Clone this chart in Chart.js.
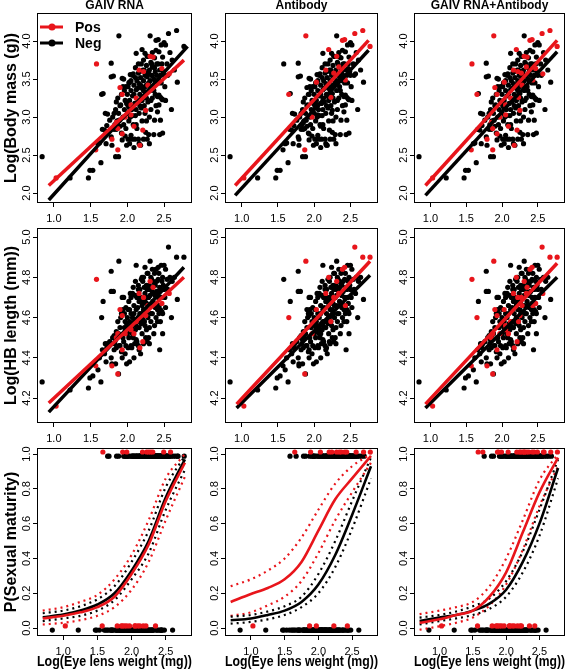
<!DOCTYPE html>
<html><head><meta charset="utf-8">
<script src="https://cdn.jsdelivr.net/npm/chart.js@4.4.1/dist/chart.umd.min.js"></script>
<style>
html,body{margin:0;padding:0;background:#fff;}
#wrap{position:relative;width:568px;height:671px;overflow:hidden;background:#fff;}
#wrap canvas{position:absolute;}
</style></head><body><div id="wrap"></div>
<script>
// ---------------- DATA ----------------
const colTitles = ['GAIV RNA', 'Antibody', 'GAIV RNA+Antibody'];
const rowTitles = ['Log(Body mass (g))', 'Log(HB length (mm))', 'P(Sexual maturity)'];
const xTitle = 'Log(Eye lens weight (mg))';
const legendLabels = ['Pos', 'Neg'];
const xTicks = [1.0, 1.5, 2.0, 2.5];
const massTicks = [2.0, 2.5, 3.0, 3.5, 4.0];
const lengthTicks = [4.2, 4.4, 4.6, 4.8, 5.0];
const probTicks = [0.0, 0.2, 0.4, 0.6, 0.8, 1.0];

// each bird: [log eye lens weight, log body mass, log HB length, mature(0/1)]
const bothPosBirds = [
  [1.03,2.20,4.16,0],[1.87,2.57,4.32,0],[1.97,3.00,4.52,0],[2.16,3.62,4.72,1],[2.31,3.80,4.78,1]
];
const rnaOnlyBirds = [
  [1.58,3.70,4.79,1],[1.57,2.57,4.36,0],[1.79,2.71,4.36,0],[1.85,2.93,4.50,0],[1.87,2.85,4.52,1],
  [1.90,3.39,4.64,0],[1.93,3.30,4.61,1],[1.93,2.78,4.44,0],[2.05,3.03,4.54,0],[2.05,3.16,4.56,0],
  [2.09,2.88,4.52,0],[2.12,3.25,4.58,0],[2.17,2.63,4.45,0],[2.21,2.83,4.48,0],[2.22,3.60,4.70,1],
  [2.25,3.09,4.61,1],[2.28,3.42,4.66,1],[2.35,3.79,4.75,0],[2.47,3.64,4.67,1],[2.57,3.57,4.72,1]
];
const abOnlyBirds = [
  [1.885,4.07,4.88,1],[1.65,3.30,4.60,1],[2.03,3.46,4.64,1],[2.20,3.89,4.80,1],[2.23,3.26,4.58,0],
  [2.27,3.58,4.70,1],[2.34,3.66,4.72,1],[2.39,4.01,4.84,1],[2.42,4.02,4.85,1],[2.43,3.49,4.66,0],
  [2.56,4.10,4.95,1],[2.67,4.14,4.90,1],[2.77,3.93,4.90,1]
];
const negBirds = [
  [0.84,2.48,4.28,0],[1.22,2.20,4.24,0],[1.47,2.20,4.25,0],[1.49,2.30,4.30,0],[1.53,2.30,4.31,0],
  [1.60,2.65,4.34,0],[1.62,2.66,4.40,0],[1.64,2.40,4.28,0],[1.66,2.84,4.44,0],[1.67,3.31,4.68,1],
  [1.69,2.83,4.42,0],[1.70,3.05,4.47,0],[1.71,2.65,4.38,0],[1.72,2.89,4.45,0],[1.73,3.04,4.47,0],
  [1.76,2.96,4.48,0],[1.78,3.71,4.83,1],[1.78,3.53,4.73,0],[1.78,2.74,4.40,0],[1.79,2.63,4.37,0],
  [1.80,3.00,4.50,0],[1.81,3.54,4.73,1],[1.82,3.05,4.51,0],[1.82,2.84,4.44,0],[1.83,2.90,4.47,0],
  [1.84,2.48,4.37,0],[1.84,3.10,4.49,0],[1.85,2.84,4.45,0],[1.85,3.20,4.53,0],[1.86,2.95,4.50,0],
  [1.87,3.25,4.58,0],[1.88,2.48,4.32,0],[1.88,3.05,4.52,0],[1.89,2.96,4.46,0],[1.90,3.15,4.55,1],
  [1.91,3.16,4.60,0],[1.92,2.79,4.43,0],[1.92,3.30,4.62,1],[1.93,3.51,4.70,1],[1.93,2.70,4.40,0],
  [1.94,3.00,4.50,0],[1.94,3.40,4.64,0],[1.95,3.50,4.70,1],[1.95,2.90,4.48,0],[1.96,3.10,4.55,0],
  [1.97,3.22,4.58,1],[1.98,3.40,4.65,0],[1.98,2.85,4.46,0],[1.99,2.63,4.37,0],[2.00,3.05,4.52,0],
  [2.00,3.30,4.60,1],[2.01,2.71,4.45,0],[2.01,3.15,4.56,0],[2.02,3.45,4.68,1],[2.02,2.95,4.50,0],
  [2.03,3.22,4.58,0],[2.03,2.65,4.38,0],[2.04,3.56,4.72,1],[2.04,3.00,4.53,0],[2.05,2.76,4.46,0],
  [2.05,3.35,4.62,0],[2.06,2.71,4.45,0],[2.06,3.10,4.55,0],[2.07,3.55,4.72,1],[2.07,3.28,4.60,1],
  [2.08,3.57,4.75,1],[2.08,2.90,4.50,0],[2.09,3.42,4.66,0],[2.10,3.18,4.57,0],[2.10,2.71,4.47,0],
  [2.11,3.65,4.78,1],[2.11,3.02,4.54,0],[2.12,3.84,4.86,1],[2.12,3.36,4.64,1],[2.13,2.85,4.48,0],
  [2.13,3.48,4.70,1],[2.14,3.20,4.58,0],[2.15,2.71,4.46,0],[2.15,3.70,4.76,1],[2.16,3.05,4.55,0],
  [2.16,3.44,4.68,1],[2.16,2.65,4.44,0],[2.17,3.30,4.62,0],[2.17,3.60,4.74,1],[2.18,2.63,4.42,0],
  [2.18,3.52,4.70,1],[2.19,3.12,4.57,0],[2.20,3.38,4.66,1],[2.20,2.95,4.52,0],[2.21,3.62,4.78,1],
  [2.21,3.25,4.60,0],[2.22,3.75,4.80,1],[2.22,3.48,4.68,1],[2.24,3.84,4.85,1],[2.23,3.15,4.58,0],
  [2.24,3.05,4.56,0],[2.24,3.55,4.72,1],[2.25,3.31,4.64,1],[2.25,2.80,4.50,0],[2.26,3.68,4.76,1],
  [2.26,3.42,4.67,1],[2.27,2.71,4.48,0],[2.27,3.53,4.74,1],[2.28,3.20,4.60,0],[2.28,3.80,4.82,1],
  [2.29,2.77,4.50,0],[2.29,3.45,4.70,1],[2.30,3.62,4.76,1],[2.30,3.00,4.55,0],[2.30,2.65,4.47,0],
  [2.31,4.07,4.88,1],[2.31,3.35,4.66,1],[2.32,3.72,4.80,1],[2.32,3.10,4.58,0],[2.33,3.55,4.74,1],
  [2.34,3.85,4.84,1],[2.34,3.25,4.62,1],[2.35,3.66,4.78,1],[2.35,3.40,4.68,1],[2.36,2.77,4.52,0],
  [2.36,3.50,4.72,1],[2.37,3.78,4.82,1],[2.37,2.96,4.56,0],[2.38,3.60,4.76,1],[2.38,3.30,4.65,1],
  [2.39,3.88,4.84,1],[2.39,3.15,4.60,0],[2.40,3.70,4.78,1],[2.41,3.27,4.64,1],[2.41,3.07,4.58,0],
  [2.42,3.45,4.70,1],[2.43,3.86,4.82,1],[2.43,3.16,4.62,0],[2.43,3.29,4.66,1],[2.44,2.77,4.44,0],
  [2.45,3.26,4.64,1],[2.45,3.55,4.74,1],[2.45,2.96,4.58,0],[2.46,3.95,4.86,1],[2.47,3.24,4.63,1],
  [2.48,3.23,4.62,1],[2.48,2.79,4.52,0],[2.48,3.79,4.80,1],[2.49,3.60,4.76,1],[2.50,3.98,4.86,1],
  [2.51,3.40,4.70,1],[2.52,3.22,4.65,1],[2.52,3.95,4.84,1],[2.60,3.10,4.60,0],[2.54,3.70,4.79,1],
  [2.55,3.55,4.74,1],[2.58,3.85,4.80,1],[2.61,3.75,4.78,1],[2.64,3.62,4.80,1],[2.68,3.46,4.69,1],
  [1.96,3.35,4.62,0],[1.99,3.18,4.57,0],[2.01,3.40,4.64,1],[2.03,3.12,4.55,0],[2.05,3.48,4.70,1],
  [2.07,3.02,4.52,0],[2.09,3.30,4.62,1],[2.11,3.52,4.71,1],[2.12,3.10,4.56,0],[2.14,3.38,4.65,1],
  [2.15,3.58,4.74,1],[2.17,3.15,4.58,0],[2.18,3.42,4.68,1],[2.19,3.70,4.79,1],[2.20,3.22,4.60,0],
  [2.22,3.35,4.64,1],[2.23,3.62,4.75,1],[2.24,3.40,4.68,1],[2.26,3.25,4.62,1],[2.27,3.80,4.82,1],
  [2.29,3.58,4.74,1],[2.31,3.48,4.71,1],[2.32,3.22,4.62,0],[2.33,3.70,4.79,1],[2.34,3.55,4.73,1],
  [2.36,3.35,4.66,1],[2.37,3.65,4.77,1],[2.38,3.48,4.71,1],[2.40,3.55,4.73,1],[2.42,3.70,4.79,1],
  [2.44,3.62,4.75,1],[2.46,3.45,4.70,1],[2.47,3.70,4.78,1],[2.50,3.55,4.74,1],[2.12,2.90,4.49,0],
  [2.26,2.95,4.54,0],[1.90,2.88,4.46,0],[1.97,2.75,4.42,0],[2.09,2.60,4.40,0],[2.22,2.71,4.47,0]
];

// fitted regression lines per column: [x0, y0, x1, y1]
const massFitPos = [[0.93,2.10,2.77,3.75],[0.91,2.10,2.75,4.01],[0.93,2.10,2.77,4.01]];
const massFitNeg = [[0.93,1.91,2.82,3.93],[0.91,1.97,2.75,3.88],[0.93,1.97,2.77,3.86]];
const lenFitPos  = [[0.93,4.175,2.77,4.80],[0.93,4.17,2.77,4.88],[0.93,4.17,2.77,4.87]];
const lenFitNeg  = [[0.93,4.13,2.77,4.85],[0.93,4.15,2.77,4.81],[0.93,4.15,2.77,4.80]];

// fitted maturity curves (and confidence bands) per column
const curveX = [0.70,1.00,1.25,1.50,1.75,2.00,2.25,2.50,2.78];
const negFit = [[0.062,0.077,0.10,0.135,0.20,0.33,0.50,0.75,0.97],
                [0.045,0.055,0.075,0.10,0.15,0.25,0.42,0.65,0.93],
                [0.04,0.06,0.075,0.10,0.14,0.22,0.38,0.60,0.92]];
const negLo  = [[0.04,0.055,0.07,0.10,0.16,0.28,0.43,0.68,0.91],
                [0.025,0.035,0.05,0.075,0.12,0.20,0.35,0.57,0.86],
                [0.02,0.04,0.055,0.075,0.11,0.18,0.32,0.53,0.86]];
const negHi  = [[0.085,0.10,0.125,0.165,0.24,0.38,0.56,0.81,0.99],
                [0.065,0.075,0.095,0.125,0.18,0.31,0.50,0.73,0.98],
                [0.06,0.075,0.095,0.125,0.17,0.27,0.44,0.68,0.97]];
const posFit = [[0.055,0.07,0.09,0.12,0.18,0.31,0.48,0.73,0.95],
                [0.15,0.195,0.23,0.28,0.38,0.56,0.74,0.86,0.99],
                [0.03,0.05,0.075,0.10,0.18,0.32,0.55,0.78,0.98]];
const posLo  = [[0.02,0.03,0.045,0.07,0.12,0.22,0.38,0.62,0.87],
                [0.07,0.09,0.13,0.18,0.27,0.43,0.62,0.78,0.95],
                [-0.01,0.01,0.03,0.06,0.13,0.25,0.45,0.70,0.93]];
const posHi  = [[0.10,0.12,0.15,0.19,0.28,0.42,0.62,0.86,1.0],
                [0.24,0.28,0.33,0.40,0.52,0.68,0.83,0.93,1.0],
                [0.08,0.10,0.12,0.15,0.24,0.40,0.62,0.85,1.0]];

// ---------------- LAYOUT / STYLE ----------------
const RED = '#e8151b', BLACK = '#000000';
const FONT = "'Liberation Sans', Arial, Helvetica, sans-serif";
Chart.defaults.font.family = FONT;
Chart.defaults.color = '#000';
const colBoxL = [37, 225, 414], colBoxR = [194, 380, 567];
const rowBoxT = [13, 228, 448], rowBoxB = [203, 423, 636];
const LM = 37, TM = 13, RM = 2, BM = [30, 30, 35];
const xRange = [[0.77, 2.88], [0.77, 2.88], [0.616, 2.884]];
const yRange = [[1.87, 4.37], [4.076, 5.045], [-0.046, 1.035]];
const yTickSets = [massTicks, lengthTicks, probTicks];

function redBirds(c) {
  if (c === 0) return rnaOnlyBirds.concat(bothPosBirds);
  if (c === 1) return abOnlyBirds.concat(bothPosBirds);
  return rnaOnlyBirds.concat(abOnlyBirds, bothPosBirds);
}
function blackBirds(c) {
  if (c === 0) return negBirds.concat(abOnlyBirds);
  if (c === 1) return negBirds.concat(rnaOnlyBirds);
  return negBirds;
}
function pts(birds, r, off) {
  return birds.map(b => ({x: b[0], y: r === 0 ? b[1] : r === 1 ? b[2] : b[3] + off}));
}
function seg(f) { return [{x: f[0], y: f[1]}, {x: f[2], y: f[3]}]; }
function curve(ys) { return curveX.map((x, i) => ({x, y: ys[i]})); }

const deco = {
  id: 'deco',
  afterDraw(chart, args, o) {
    const {ctx, chartArea: a} = chart;
    ctx.save();
    ctx.strokeStyle = '#000'; ctx.lineWidth = 1;
    ctx.strokeRect(Math.round(a.left) + 0.5, Math.round(a.top) + 0.5,
                   Math.round(a.right - a.left) - 1, Math.round(a.bottom - a.top) - 1);
    // rotated y tick labels (R style)
    const ys = chart.scales.y;
    ctx.fillStyle = '#000';
    ctx.font = '11px ' + FONT;
    ctx.textAlign = 'center'; ctx.textBaseline = 'alphabetic';
    ys.ticks.forEach(t => {
      const py = ys.getPixelForValue(t.value);
      ctx.save(); ctx.translate(a.left - 7, py); ctx.rotate(-Math.PI / 2);
      ctx.fillText(t.value.toFixed(1), 0, 0); ctx.restore();
    });
    if (o.title) {
      ctx.font = 'bold 12px ' + FONT; ctx.textBaseline = 'middle';
      ctx.fillText(o.title, (a.left + a.right) / 2, a.top - 7);
    }
    if (o.legend) {
      const items = [[legendLabels[0], RED], [legendLabels[1], BLACK]];
      items.forEach((it, i) => {
        const y = a.top + 14 + i * 16;
        ctx.strokeStyle = it[1]; ctx.lineWidth = 3;
        ctx.beginPath(); ctx.moveTo(a.left + 3, y); ctx.lineTo(a.left + 26, y); ctx.stroke();
        ctx.fillStyle = it[1];
        ctx.beginPath(); ctx.arc(a.left + 15, y, 3.5, 0, Math.PI * 2); ctx.fill();
        ctx.fillStyle = '#000'; ctx.font = 'bold 14px ' + FONT;
        ctx.textAlign = 'left'; ctx.textBaseline = 'middle';
        ctx.fillText(it[0], a.left + 38, y + 1);
      });
    }
    ctx.restore();
  }
};

function makePanel(r, c) {
  const cv = document.createElement('canvas');
  const w = colBoxR[c] - colBoxL[c] + LM + RM;
  const h = rowBoxB[r] - rowBoxT[r] + TM + BM[r];
  cv.width = w; cv.height = h;
  cv.style.left = (colBoxL[c] - LM) + 'px';
  cv.style.top = (rowBoxT[r] - TM) + 'px';
  cv.style.width = w + 'px'; cv.style.height = h + 'px';
  document.getElementById('wrap').appendChild(cv);

  const ptR = 2.6;
  const ds = [];
  ds.push({data: pts(blackBirds(c), r, -0.012), backgroundColor: BLACK, borderWidth: 0,
           pointRadius: ptR, order: 5});
  ds.push({data: pts(redBirds(c), r, 0.012), backgroundColor: RED, borderWidth: 0,
           pointRadius: ptR, order: 4});
  const lineDs = (data, color, width, dash, ord) => ({
    data, showLine: true, borderColor: color, borderWidth: width, pointRadius: 0,
    borderDash: dash || [], fill: false, order: ord, tension: 0.4,
    cubicInterpolationMode: 'monotone', borderCapStyle: 'butt'
  });
  if (r === 0) {
    ds.push(lineDs(seg(massFitNeg[c]), BLACK, 3.5, null, 2));
    ds.push(lineDs(seg(massFitPos[c]), RED, 3.5, null, 1));
  } else if (r === 1) {
    ds.push(lineDs(seg(lenFitNeg[c]), BLACK, 3.5, null, 2));
    ds.push(lineDs(seg(lenFitPos[c]), RED, 3.5, null, 1));
  } else {
    const dot = [2, 4];
    ds.push(lineDs(curve(negLo[c]), BLACK, 2.2, dot, 3));
    ds.push(lineDs(curve(negHi[c]), BLACK, 2.2, dot, 3));
    ds.push(lineDs(curve(posLo[c]), RED, 2.2, dot, 3));
    ds.push(lineDs(curve(posHi[c]), RED, 2.2, dot, 3));
    ds.push(lineDs(curve(negFit[c]), BLACK, 2.6, null, 2));
    ds.push(lineDs(curve(posFit[c]), RED, 2.6, null, 1));
  }

  new Chart(cv, {
    type: 'scatter',
    data: {datasets: ds},
    options: {
      responsive: false, animation: false, devicePixelRatio: 1,
      layout: {padding: {left: 0, top: TM, right: RM, bottom: 0}},
      plugins: {legend: {display: false}, tooltip: {enabled: false},
                deco: {title: r === 0 ? colTitles[c] : null, legend: r === 0 && c === 0}},
      scales: {
        x: {
          type: 'linear', min: xRange[r][0], max: xRange[r][1],
          afterBuildTicks: s => { s.ticks = xTicks.map(v => ({value: v})); },
          afterFit: s => { s.height = BM[r]; },
          ticks: {callback: v => Number(v).toFixed(1), font: {size: 11}, color: '#000',
                  padding: 5, maxRotation: 0, minRotation: 0, autoSkip: false},
          grid: {drawOnChartArea: false, drawTicks: true, tickLength: 4, color: '#000', lineWidth: 1},
          border: {display: false},
          title: {display: r === 2, text: xTitle, color: '#000',
                  font: {size: 14, weight: 'bold'}, padding: {top: 0, bottom: 0}}
        },
        y: {
          type: 'linear', min: yRange[r][0], max: yRange[r][1],
          afterBuildTicks: s => { s.ticks = yTickSets[r].map(v => ({value: v})); },
          afterFit: s => { s.width = LM; },
          ticks: {display: false},
          grid: {drawOnChartArea: false, drawTicks: true, tickLength: 4, color: '#000', lineWidth: 1},
          border: {display: false},
          title: {display: c === 0, text: rowTitles[r], color: '#000',
                  font: {size: 16, weight: 'bold'}, padding: {top: 2, bottom: 0}}
        }
      }
    },
    plugins: [deco]
  });
}
for (let r = 0; r < 3; r++) for (let c = 0; c < 3; c++) makePanel(r, c);
</script>
</body></html>
